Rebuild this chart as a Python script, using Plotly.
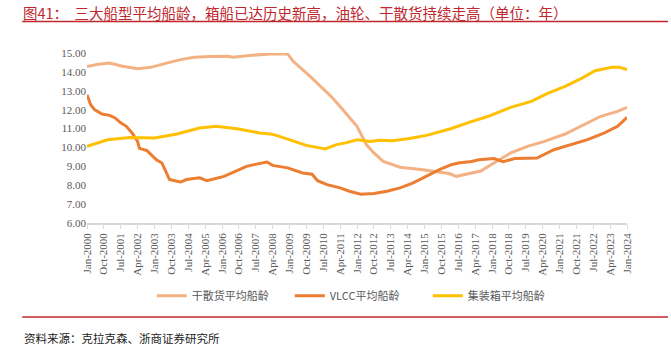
import pandas as pd
import plotly.graph_objects as go

title_text = "图41：  三大船型平均船龄，箱船已达历史新高，油轮、干散货持续走高（单位：年）"
source_text = "资料来源：克拉克森、浙商证券研究所"

series_names = ["干散货平均船龄", "VLCC平均船龄", "集装箱平均船龄"]
series_colors = ["#F4B183", "#ED7D31", "#FFC000"]

bulk_dates = ["2000-01", "2000-07", "2001-01", "2001-08", "2002-04", "2002-11", "2003-07",
              "2004-03", "2004-10", "2005-07", "2006-04", "2006-07", "2007-05", "2008-03",
              "2008-12", "2009-03", "2009-12", "2010-12", "2011-04", "2012-01", "2012-06",
              "2012-10", "2013-03", "2013-12", "2014-11", "2015-06", "2016-02", "2016-06",
              "2016-12", "2017-07", "2018-02", "2018-11", "2019-08", "2020-05", "2021-04",
              "2022-02", "2022-11", "2023-08", "2024-01"]
bulk_values = [14.29, 14.40, 14.47, 14.30, 14.17, 14.24, 14.45,
               14.65, 14.77, 14.82, 14.83, 14.77, 14.88, 14.95,
               14.95, 14.56, 13.76, 12.62, 12.17, 11.12, 10.15,
               9.71, 9.26, 8.95, 8.83, 8.74, 8.62, 8.47,
               8.60, 8.75, 9.18, 9.71, 10.06, 10.32, 10.71,
               11.21, 11.65, 11.91, 12.12]

vlcc_dates = ["2000-01", "2000-03", "2000-05", "2000-09", "2001-01", "2001-04", "2001-07",
              "2001-10", "2002-01", "2002-04", "2002-05", "2002-09", "2003-02", "2003-05",
              "2003-07", "2003-09", "2004-01", "2004-03", "2004-06", "2005-01", "2005-05",
              "2006-02", "2006-09", "2007-02", "2007-08", "2008-01", "2008-04", "2008-12",
              "2009-08", "2010-01", "2010-04", "2010-09", "2011-04", "2011-09", "2012-03",
              "2012-10", "2013-05", "2013-12", "2014-07", "2015-02", "2015-09", "2016-03",
              "2016-07", "2017-02", "2017-06", "2018-02", "2018-07", "2019-01", "2020-01",
              "2020-10", "2021-07", "2022-04", "2023-01", "2023-08", "2024-01"]
vlcc_values = [12.79, 12.26, 12.00, 11.77, 11.70, 11.56, 11.30,
               11.12, 10.77, 10.32, 9.95, 9.83, 9.35, 9.18,
               8.74, 8.30, 8.21, 8.17, 8.30, 8.39, 8.24,
               8.47, 8.77, 9.00, 9.13, 9.23, 9.05, 8.92,
               8.65, 8.58, 8.24, 8.03, 7.86, 7.68, 7.52,
               7.56, 7.68, 7.86, 8.12, 8.47, 8.83, 9.08,
               9.18, 9.26, 9.35, 9.41, 9.25, 9.41, 9.44,
               9.88, 10.15, 10.41, 10.77, 11.12, 11.59]

box_dates = ["2000-01", "2000-12", "2001-12", "2003-01", "2004-01", "2005-01", "2005-10",
             "2006-09", "2007-09", "2008-03", "2008-06", "2009-03", "2009-10", "2010-08",
             "2011-02", "2011-07", "2012-01", "2012-08", "2013-01", "2013-08", "2014-05",
             "2015-02", "2015-09", "2016-03", "2016-12", "2017-11", "2018-11", "2019-10",
             "2020-07", "2021-04", "2022-01", "2022-08", "2023-05", "2023-09", "2024-01"]
box_values = [10.06, 10.41, 10.53, 10.50, 10.71, 11.03, 11.12,
              10.99, 10.77, 10.71, 10.64, 10.36, 10.11, 9.92,
              10.15, 10.24, 10.41, 10.32, 10.38, 10.36, 10.47,
              10.64, 10.82, 10.99, 11.30, 11.65, 12.12, 12.44,
              12.88, 13.23, 13.67, 14.06, 14.24, 14.24, 14.12]

tick_labels = ["Jan-2000", "Oct-2000", "Jul-2001", "Apr-2002", "Jan-2003", "Oct-2003",
               "Jul-2004", "Apr-2005", "Jan-2006", "Oct-2006", "Jul-2007", "Apr-2008",
               "Jan-2009", "Oct-2009", "Jul-2010", "Apr-2011", "Jan-2012", "Oct-2012",
               "Jul-2013", "Apr-2014", "Jan-2015", "Oct-2015", "Jul-2016", "Apr-2017",
               "Jan-2018", "Oct-2018", "Jul-2019", "Apr-2020", "Jan-2021", "Oct-2021",
               "Jul-2022", "Apr-2023", "Jan-2024"]
y_ticks = [6, 7, 8, 9, 10, 11, 12, 13, 14, 15]

tick_dates = [pd.to_datetime(t, format="%b-%Y") for t in tick_labels]

fig = go.Figure()
for name, color, d, v in zip(series_names, series_colors,
                             [bulk_dates, vlcc_dates, box_dates],
                             [bulk_values, vlcc_values, box_values]):
    fig.add_trace(go.Scatter(
        x=pd.to_datetime(d, format="%Y-%m"), y=v, mode="lines", name=name,
        line=dict(color=color, width=3), hoverinfo="skip"))

gray = "#595959"
red = "#C0272D"
serif = "Liberation Serif"
cjk = "Noto Sans CJK SC"

fig.update_layout(
    width=671, height=346,
    margin=dict(l=87, r=44, t=53, b=123),
    paper_bgcolor="white", plot_bgcolor="white",
    showlegend=True,
    legend=dict(orientation="h", x=0.12, xanchor="left", y=-0.428, yanchor="middle",
                font=dict(family=cjk, size=11, color=gray),
                entrywidth=93, entrywidthmode="pixels", itemwidth=30,
                bgcolor="rgba(0,0,0,0)"),
    xaxis=dict(
        type="date", range=[tick_dates[0], tick_dates[-1]],
        tickvals=tick_dates, ticktext=tick_labels, tickangle=-90,
        tickfont=dict(family=serif, size=11, color=gray),
        showgrid=False, zeroline=False,
        showline=True, linecolor="#D9D9D9", linewidth=1.5,
        ticks="outside", ticklen=4, tickcolor="#D9D9D9", tickwidth=1,
    ),
    yaxis=dict(
        range=[6, 15], tickvals=y_ticks, tickformat=".2f",
        tickfont=dict(family=serif, size=11, color=gray),
        showgrid=False, zeroline=False, showline=False, ticks="",
    ),
    annotations=[
        dict(text=title_text, xref="paper", yref="paper", x=-0.122, y=1.237,
             xanchor="left", yanchor="middle", showarrow=False,
             font=dict(family=cjk, size=14.5, color=red)),
        dict(text=source_text, xref="paper", yref="paper", x=-0.120, y=-0.675,
             xanchor="left", yanchor="middle", showarrow=False,
             font=dict(family=cjk, size=11.5, color="#222222")),
    ],
    shapes=[
        dict(type="line", xref="paper", yref="paper", x0=-0.120, x1=1.076,
             y0=1.186, y1=1.186, line=dict(color=red, width=1.5)),
        dict(type="line", xref="paper", yref="paper", x0=-0.120, x1=1.076,
             y0=-0.553, y1=-0.553, line=dict(color=red, width=1.5)),
    ],
)

fig.write_html("out.html")
